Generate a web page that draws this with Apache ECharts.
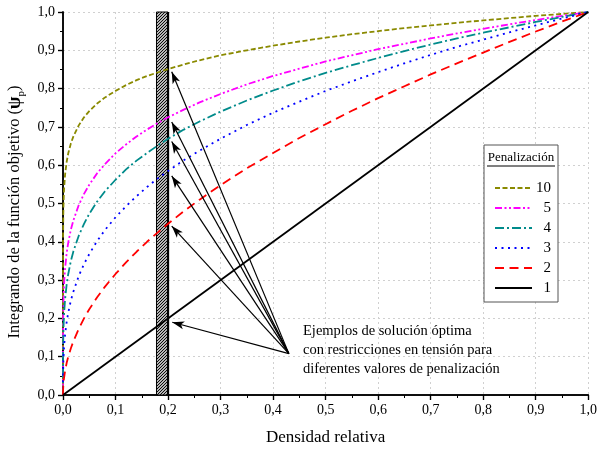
<!DOCTYPE html>
<html>
<head>
<meta charset="utf-8">
<script src="https://cdn.jsdelivr.net/npm/echarts@6/dist/echarts.min.js"></script>
<style>
  html, body { margin: 0; padding: 0; background: #fff; }
  #chart { width: 600px; height: 452px; }
</style>
</head>
<body>
<div id="chart"></div>
<script>
// Relative density samples (x) shared by the curved series
const density = [0, 0.0001, 0.0005, 0.001, 0.002, 0.004, 0.007, 0.01, 0.015, 0.02, 0.03, 0.04, 0.05, 0.065, 0.08, 0.1, 0.12, 0.14, 0.16, 0.18, 0.2, 0.23, 0.26, 0.3, 0.35, 0.4, 0.45, 0.5, 0.55, 0.6, 0.65, 0.7, 0.75, 0.8, 0.85, 0.9, 0.95, 1.0];

// Objective-function integrand for each penalization value
const psi10 = [0, 0.398, 0.468, 0.501, 0.537, 0.576, 0.609, 0.631, 0.657, 0.676, 0.704, 0.725, 0.741, 0.761, 0.777, 0.794, 0.809, 0.822, 0.833, 0.842, 0.851, 0.863, 0.874, 0.887, 0.900, 0.912, 0.923, 0.933, 0.942, 0.950, 0.958, 0.965, 0.972, 0.978, 0.984, 0.990, 0.995, 1.0];
const psi5  = [0, 0.158, 0.219, 0.251, 0.289, 0.331, 0.371, 0.398, 0.432, 0.457, 0.496, 0.525, 0.549, 0.579, 0.603, 0.631, 0.654, 0.675, 0.693, 0.710, 0.725, 0.745, 0.764, 0.786, 0.811, 0.833, 0.852, 0.871, 0.887, 0.903, 0.917, 0.931, 0.944, 0.956, 0.968, 0.979, 0.990, 1.0];
const psi4  = [0, 0.100, 0.150, 0.178, 0.211, 0.251, 0.289, 0.316, 0.350, 0.376, 0.416, 0.447, 0.473, 0.505, 0.532, 0.562, 0.589, 0.612, 0.632, 0.651, 0.669, 0.693, 0.714, 0.740, 0.769, 0.795, 0.819, 0.841, 0.861, 0.880, 0.898, 0.915, 0.931, 0.946, 0.960, 0.974, 0.987, 1.0];
const psi3  = [0, 0.046, 0.079, 0.100, 0.126, 0.159, 0.191, 0.215, 0.247, 0.271, 0.311, 0.342, 0.368, 0.402, 0.431, 0.464, 0.493, 0.519, 0.543, 0.565, 0.585, 0.613, 0.638, 0.669, 0.705, 0.737, 0.766, 0.794, 0.819, 0.843, 0.866, 0.888, 0.909, 0.928, 0.947, 0.965, 0.983, 1.0];
const psi2  = [0, 0.010, 0.022, 0.032, 0.045, 0.063, 0.084, 0.100, 0.122, 0.141, 0.173, 0.200, 0.224, 0.255, 0.283, 0.316, 0.346, 0.374, 0.400, 0.424, 0.447, 0.480, 0.510, 0.548, 0.592, 0.632, 0.671, 0.707, 0.742, 0.775, 0.806, 0.837, 0.866, 0.894, 0.922, 0.949, 0.975, 1.0];

// Penalization 1 is a straight line
const densityLinear = [0, 1.0];
const psi1 = [0, 1.0];

// Penalization labels (legend order)
const penalties = ['10', '5', '4', '3', '2', '1'];

// Highlighted density band [from, to]
const band = [0.178, 0.2];

// Annotation arrows: common tail and tips on each curve
const arrowTail = [0.43, 0.108];
const arrowTips = [[0.207, 0.844], [0.207, 0.713], [0.207, 0.662], [0.207, 0.572], [0.207, 0.441], [0.208, 0.19]];

const annotation = ['Ejemplos de solución óptima', 'con restricciones en tensión para', 'diferentes valores de penalización'];

const FONT = '"Liberation Serif", "DejaVu Serif", serif';

const styles = [
  { color: '#8a8a00', dash: [5, 2.5] },
  { color: '#ff00ff', dash: [7, 2.5, 2, 2.5, 2, 2.5] },
  { color: '#008b8b', dash: [9, 3, 2, 3] },
  { color: '#0000ff', dash: [2, 4.5] },
  { color: '#ff0000', dash: [9, 5.5] },
  { color: '#000000', dash: 'solid' }
];

const curves = [
  [density, psi10], [density, psi5], [density, psi4],
  [density, psi3], [density, psi2], [densityLinear, psi1]
];

function pairs(xs, ys) {
  return xs.map((x, i) => [x, ys[i]]);
}

// Diagonal hatch pattern for the band
const hatch = document.createElement('canvas');
hatch.width = 3; hatch.height = 3;
(function () {
  const c = hatch.getContext('2d');
  c.fillStyle = '#fff';
  c.fillRect(0, 0, 3, 3);
  c.strokeStyle = '#000';
  c.lineWidth = 1.1;
  c.beginPath();
  c.moveTo(-0.5, 3.5); c.lineTo(3.5, -0.5);
  c.moveTo(-1, 1); c.lineTo(1, -1);
  c.moveTo(2, 4); c.lineTo(4, 2);
  c.stroke();
})();

const chart = echarts.init(document.getElementById('chart'), null, { renderer: 'canvas' });

const lineSeries = curves.map((xy, i) => ({
  name: penalties[i],
  type: 'line',
  data: pairs(xy[0], xy[1]),
  showSymbol: false,
  smooth: false,
  z: 3,
  lineStyle: { color: styles[i].color, width: 1.8, type: styles[i].dash },
  itemStyle: { color: styles[i].color }
}));

const bandSeries = {
  type: 'custom',
  z: 2,
  silent: true,
  data: [band],
  renderItem: function (params, api) {
    const p0 = api.coord([api.value(0), 1]);
    const p1 = api.coord([api.value(1), 0]);
    return {
      type: 'group',
      children: [
        {
          type: 'rect',
          shape: { x: p0[0], y: p0[1], width: p1[0] - p0[0], height: p1[1] - p0[1] },
          style: { fill: { image: hatch, repeat: 'repeat' }, stroke: '#000', lineWidth: 1 }
        },
        {
          type: 'line',
          shape: { x1: p1[0], y1: p0[1], x2: p1[0], y2: p1[1] },
          style: { stroke: '#000', lineWidth: 2.2 }
        }
      ]
    };
  }
};

const arrowSeries = {
  type: 'line',
  data: [],
  z: 4,
  markLine: {
    silent: true,
    symbol: ['none', 'arrow'],
    symbolSize: [6, 12],
    label: { show: false },
    lineStyle: { color: '#000', width: 1.2, type: 'solid' },
    data: arrowTips.map(t => [{ coord: arrowTail }, { coord: t }])
  }
};

const tickLabels = v => v.toFixed(1).replace('.', ',');

const axisCommon = {
  type: 'value',
  min: 0,
  max: 1,
  interval: 0.1,
  axisLine: { show: true, lineStyle: { color: '#000', width: 1.5 } },
  axisTick: { show: true, length: 5, lineStyle: { color: '#000', width: 1.2 } },
  minorTick: { show: true, splitNumber: 2, length: 3, lineStyle: { color: '#000', width: 1 } }
};

// Legend drawn as a framed box
const legendX = 484, legendY = 145, legendW = 74, legendH = 157;
const graphics = [
  { type: 'rect', shape: { x: legendX, y: legendY, width: legendW, height: legendH },
    style: { fill: '#fff', stroke: '#555', lineWidth: 1 }, z: 10 },
  { type: 'text', x: legendX + legendW / 2, y: legendY + 13,
    style: { text: 'Penalización', font: '13px ' + FONT, fill: '#000', align: 'center', verticalAlign: 'middle' }, z: 11 },
  { type: 'line', shape: { x1: legendX + 3, y1: legendY + 21, x2: legendX + legendW - 3, y2: legendY + 21 },
    style: { stroke: '#000', lineWidth: 1 }, z: 11 }
];
penalties.forEach((p, i) => {
  const y = legendY + 43 + i * 20;
  graphics.push({
    type: 'line', shape: { x1: legendX + 11, y1: y, x2: legendX + 48, y2: y },
    style: { stroke: styles[i].color, lineWidth: 1.8, lineDash: styles[i].dash === 'solid' ? null : styles[i].dash }, z: 11
  });
  graphics.push({
    type: 'text', x: legendX + 67, y: y,
    style: { text: p, font: '15px ' + FONT, fill: '#000', align: 'right', verticalAlign: 'middle' }, z: 11
  });
});

annotation.forEach((line, i) => {
  graphics.push({
    type: 'text', x: 303, y: 331 + i * 19,
    style: { text: line, font: '14.5px ' + FONT, fill: '#000', align: 'left', verticalAlign: 'middle' }, z: 11
  });
});

// Vertical axis title with bold psi and subscript p
graphics.push({
  type: 'text',
  x: 15, y: 212,
  rotation: Math.PI / 2,
  style: {
    text: '{a|Integrando de la función objetivo (}{b|ψ}{s|p}{a|)}',
    align: 'center',
    verticalAlign: 'middle',
    rich: {
      a: { fontFamily: FONT, fontSize: 16.5, fill: '#000', lineHeight: 24 },
      b: { fontFamily: FONT, fontSize: 18, fontWeight: 'bold', fill: '#000', lineHeight: 24 },
      s: { fontFamily: FONT, fontSize: 11, fill: '#000', verticalAlign: 'bottom', lineHeight: 24 }
    }
  },
  z: 11
});

chart.setOption({
  animation: false,
  backgroundColor: '#fff',
  textStyle: { fontFamily: FONT },
  grid: { left: 63, right: 9, top: 12, bottom: 57 },
  xAxis: [
    Object.assign({}, axisCommon, {
      position: 'bottom',
      name: 'Densidad relativa',
      nameLocation: 'middle',
      nameGap: 34,
      nameTextStyle: { fontFamily: FONT, fontSize: 17, color: '#000' },
      axisLabel: { formatter: tickLabels, fontFamily: FONT, fontSize: 14, color: '#000', margin: 8 },
      splitLine: { show: true, lineStyle: { color: '#d0d0d0', type: [2, 3], width: 1 } }
    }),
    Object.assign({}, axisCommon, {
      position: 'top',
      axisLabel: { show: false },
      axisTick: Object.assign({}, axisCommon.axisTick, { inside: true }),
      minorTick: Object.assign({}, axisCommon.minorTick, { inside: true }),
      splitLine: { show: false }
    })
  ],
  yAxis: [
    Object.assign({}, axisCommon, {
      position: 'left',
      axisLabel: { formatter: tickLabels, fontFamily: FONT, fontSize: 14, color: '#000', margin: 8 },
      splitLine: { show: true, lineStyle: { color: '#d0d0d0', type: [2, 3], width: 1 } }
    }),
    Object.assign({}, axisCommon, {
      position: 'right',
      axisLabel: { show: false },
      axisTick: Object.assign({}, axisCommon.axisTick, { inside: true }),
      minorTick: Object.assign({}, axisCommon.minorTick, { inside: true }),
      splitLine: { show: false }
    })
  ],
  series: [bandSeries].concat(lineSeries, [arrowSeries]),
  graphic: graphics
});
</script>
</body>
</html>
